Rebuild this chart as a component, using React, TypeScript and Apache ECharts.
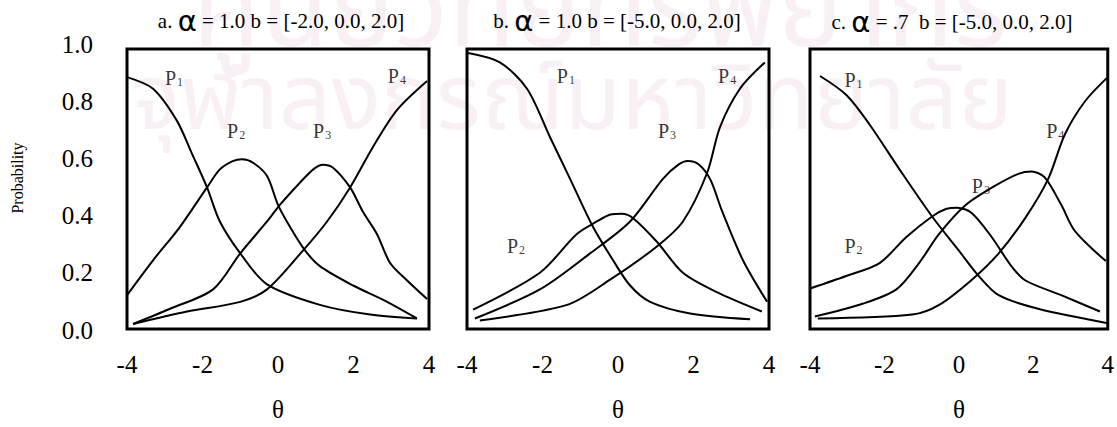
import React, { useEffect, useRef } from "react";
import * as echarts from "echarts";

// θ sample points and category response curves P1..P4 for each panel
const panelATheta1 = [-4, -3.31, -2.68, -2.28, -1.88, -1.54, -1.0, -0.29, 1.11, 2.44, 3.68];
const panelAP1 = [0.881, 0.839, 0.724, 0.605, 0.483, 0.36, 0.245, 0.133, 0.059, 0.024, 0.01];
const panelATheta2 = [-4, -3.31, -2.6, -1.88, -1.54, -1.2, -0.95, -0.66, -0.29, 0.0, 0.32, 0.72, 1.11, 1.99, 2.89, 3.68];
const panelAP2 = [0.094, 0.22, 0.34, 0.483, 0.548, 0.578, 0.585, 0.572, 0.524, 0.42, 0.34, 0.255, 0.199, 0.129, 0.07, 0.01];
const panelATheta3 = [-3.84, -2.86, -1.72, -1.0, -0.29, 0.05, 0.58, 0.95, 1.19, 1.45, 1.91, 2.25, 2.62, 2.97, 3.42, 3.95];
const panelAP3 = [-0.01, 0.045, 0.115, 0.245, 0.36, 0.42, 0.5, 0.55, 0.565, 0.555, 0.483, 0.395, 0.315, 0.21, 0.147, 0.08];
const panelATheta4 = [-3.84, -2.41, -1.0, -0.29, 0.66, 1.3, 1.91, 2.52, 3.15, 3.95];
const panelAP4 = [-0.01, 0.035, 0.07, 0.115, 0.255, 0.36, 0.483, 0.63, 0.762, 0.867];

const panelBTheta1 = [-3.97, -3.13, -2.41, -1.8, -1.27, -0.66, -0.13, 0.32, 0.85, 1.91, 3.5];
const panelBP1 = [0.968, 0.934, 0.839, 0.664, 0.514, 0.34, 0.22, 0.129, 0.07, 0.028, 0.007];
const panelBTheta2 = [-3.84, -2.07, -1.09, -0.56, -0.2, 0.1, 0.4, 1.03, 1.72, 2.62, 3.81];
const panelBP2 = [0.042, 0.175, 0.315, 0.36, 0.385, 0.388, 0.372, 0.287, 0.175, 0.105, 0.035];
const panelBTheta3 = [-3.79, -2.07, -0.74, 0.32, 1.19, 1.6, 1.85, 2.15, 2.45, 2.75, 3.31, 3.95];
const panelBP3 = [0.01, 0.115, 0.245, 0.36, 0.514, 0.565, 0.578, 0.565, 0.51, 0.4, 0.22, 0.07];
const panelBTheta4 = [-3.66, -1.35, -0.21, 1.03, 1.72, 2.36, 2.7, 3.23, 3.89];
const panelBP4 = [0.003, 0.059, 0.15, 0.27, 0.36, 0.535, 0.7, 0.839, 0.934];

const panelCTheta1 = [-3.73, -3.01, -2.4, -1.6, -0.72, 0.0, 0.53, 1.07, 2.13, 4.0];
const panelCP1 = [0.885, 0.815, 0.71, 0.549, 0.378, 0.255, 0.164, 0.094, 0.045, -0.007];
const panelCTheta2 = [-4.13, -3.01, -2.13, -1.41, -0.72, -0.35, -0.05, 0.35, 0.88, 1.41, 1.79, 2.75, 3.79];
const panelCP2 = [0.112, 0.164, 0.21, 0.304, 0.378, 0.405, 0.41, 0.39, 0.304, 0.199, 0.147, 0.094, 0.035];
const panelCTheta3 = [-3.87, -2.59, -1.68, -1.07, -0.53, 0.19, 0.99, 1.6, 1.95, 2.3, 2.75, 3.12, 3.95];
const panelCP3 = [0.017, 0.063, 0.115, 0.21, 0.315, 0.42, 0.49, 0.532, 0.54, 0.52, 0.42, 0.325, 0.217];
const panelCTheta4 = [-3.79, -1.25, -0.53, 0.35, 1.07, 1.79, 2.4, 2.85, 3.39, 4.0];
const panelCP4 = [0.01, 0.024, 0.059, 0.15, 0.245, 0.374, 0.514, 0.675, 0.794, 0.881];

// Curve label anchors: [θ, probability, subscript]
const panelALabels = [[-2.755, 0.881, "1"], [-1.11, 0.689, "2"], [1.17, 0.689, "3"], [3.15, 0.888, "4"]];
const panelBLabels = [[-1.38, 0.888, "1"], [-2.7, 0.276, "2"], [1.3, 0.689, "3"], [2.89, 0.888, "4"]];
const panelCLabels = [[-2.83, 0.874, "1"], [-2.83, 0.276, "2"], [0.59, 0.49, "3"], [2.59, 0.689, "4"]];

const panelTitles = [
  { prefix: "a.", alpha: "1.0", b: "[-2.0, 0.0, 2.0]" },
  { prefix: "b.", alpha: "1.0", b: "[-5.0, 0.0, 2.0]" },
  { prefix: "c.", alpha: ".7 ", b: "[-5.0, 0.0, 2.0]" },
];

const yTicks = [0, 0.2, 0.4, 0.6, 0.8, 1.0];
const xTickLabels = ["-4", "-2", "0", "2", "4"];

const SERIF = "'Liberation Serif', 'Times New Roman', serif";

export default function App() {
  const ref = useRef<HTMLDivElement>(null);

  useEffect(() => {
    if (!ref.current) return;
    const chart = echarts.init(ref.current, undefined, { renderer: "svg" });

    const panels = [
      { curves: [[panelATheta1, panelAP1], [panelATheta2, panelAP2], [panelATheta3, panelAP3], [panelATheta4, panelAP4]], labels: panelALabels },
      { curves: [[panelBTheta1, panelBP1], [panelBTheta2, panelBP2], [panelBTheta3, panelBP3], [panelBTheta4, panelBP4]], labels: panelBLabels },
      { curves: [[panelCTheta1, panelCP1], [panelCTheta2, panelCP2], [panelCTheta3, panelCP3], [panelCTheta4, panelCP4]], labels: panelCLabels },
    ];

    const grids = [
      { left: 127, top: 49, width: 302, height: 289 },
      { left: 467, top: 49, width: 302, height: 289 },
      { left: 810, top: 49, width: 300, height: 289 },
    ].map((g) => ({ ...g, show: true, borderColor: "#000", borderWidth: 3, backgroundColor: "transparent" }));

    // extra grid that only carries the shared probability scale on the left
    const labelGrid = { left: 127, top: 44, width: 302, height: 286, show: false };

    const xAxes: any[] = grids.map((_, i) => ({
      type: "value",
      gridIndex: i,
      min: -4,
      max: 4,
      interval: 2,
      axisLine: { show: false },
      axisTick: { show: false },
      splitLine: { show: false },
      axisLabel: {
        margin: 23,
        fontFamily: SERIF,
        fontSize: 25,
        color: "#000",
        formatter: (v: number) => xTickLabels[(v + 4) / 2] ?? String(v),
      },
      name: "θ",
      nameLocation: "middle",
      nameGap: 68,
      nameTextStyle: { fontFamily: SERIF, fontSize: 25, color: "#000" },
    }));
    xAxes.push({ type: "value", gridIndex: 3, min: -4, max: 4, show: false });

    const yAxes: any[] = grids.map((_, i) => ({
      type: "value",
      gridIndex: i,
      min: -0.028,
      max: 0.9825,
      axisLine: { show: false },
      axisTick: { show: false },
      splitLine: { show: false },
      axisLabel: { show: false },
    }));
    yAxes.push({
      type: "value",
      gridIndex: 3,
      min: 0,
      max: 1,
      interval: 0.2,
      axisLine: { show: false },
      axisTick: { show: false },
      splitLine: { show: false },
      axisLabel: {
        margin: 34,
        fontFamily: SERIF,
        fontSize: 25,
        color: "#000",
        formatter: (v: number) => (yTicks.includes(Math.round(v * 10) / 10) ? v.toFixed(1) : ""),
      },
    });

    const series: any[] = [];
    panels.forEach((p, i) => {
      p.curves.forEach(([xs, ys]) => {
        series.push({
          type: "line",
          xAxisIndex: i,
          yAxisIndex: i,
          data: (xs as number[]).map((x, k) => [x, (ys as number[])[k]]),
          smooth: 0.3,
          showSymbol: false,
          clip: false,
          lineStyle: { color: "#000", width: 2 },
        });
      });
      series.push({
        type: "scatter",
        xAxisIndex: i,
        yAxisIndex: i,
        symbolSize: 1,
        itemStyle: { color: "transparent" },
        data: p.labels.map((l) => ({ value: [l[0], l[1]], sub: l[2] })),
        label: {
          show: true,
          position: "inside",
          formatter: (d: any) => `{p|P}{s|${d.data.sub}}`,
          rich: {
            p: { fontFamily: SERIF, fontSize: 20, color: "#000", lineHeight: 22, verticalAlign: "bottom" },
            s: { fontFamily: SERIF, fontSize: 12, color: "#000", lineHeight: 12, verticalAlign: "bottom", padding: [0, 0, 0, 1] },
          },
        },
      });
    });

    const titleCenters = [281, 617, 952];
    const titleY = [21, 21, 22];
    const titleTexts = panelTitles.map((t, i) => ({
      type: "text",
      x: titleCenters[i],
      y: titleY[i],
      style: {
        text: `{t|${t.prefix} }{a|α}{t| = ${t.alpha} b = ${t.b}}`,
        align: "center",
        verticalAlign: "middle",
        rich: {
          t: { fontFamily: SERIF, fontSize: 21, fill: "#000" },
          a: { fontFamily: "'DejaVu Sans', sans-serif", fontSize: 29, fill: "#000" },
        },
      },
    }));

    chart.setOption({
      animation: false,
      backgroundColor: "#fff",
      grid: [...grids, labelGrid],
      xAxis: xAxes,
      yAxis: yAxes,
      series,
      graphic: [
        {
          type: "text",
          x: 600,
          y: 12,
          z: -10,
          silent: true,
          style: {
            text: "ศูนย์วิทยทรัพยากร",
            align: "center",
            verticalAlign: "middle",
            fontFamily: "'Noto Sans Thai', 'Noto Sans', sans-serif",
            fontSize: 110,
            fill: "#f9f0f5",
          },
        },
        {
          type: "text",
          x: 572,
          y: 100,
          z: -10,
          silent: true,
          style: {
            text: "จุฬาลงกรณ์มหาวิทยาลัย",
            align: "center",
            verticalAlign: "middle",
            fontFamily: "'Noto Sans Thai', 'Noto Sans', sans-serif",
            fontSize: 92,
            fill: "#f9f0f5",
          },
        },
        ...titleTexts,
        {
          type: "text",
          x: 17,
          y: 178,
          rotation: Math.PI / 2,
          style: {
            text: "Probability",
            align: "center",
            verticalAlign: "middle",
            fontFamily: SERIF,
            fontSize: 16,
            fill: "#000",
          },
        },
      ],
    });

    return () => chart.dispose();
  }, []);

  return <div ref={ref} style={{ position: "fixed", left: 0, top: 0, width: 1117, height: 427 }} />;
}
